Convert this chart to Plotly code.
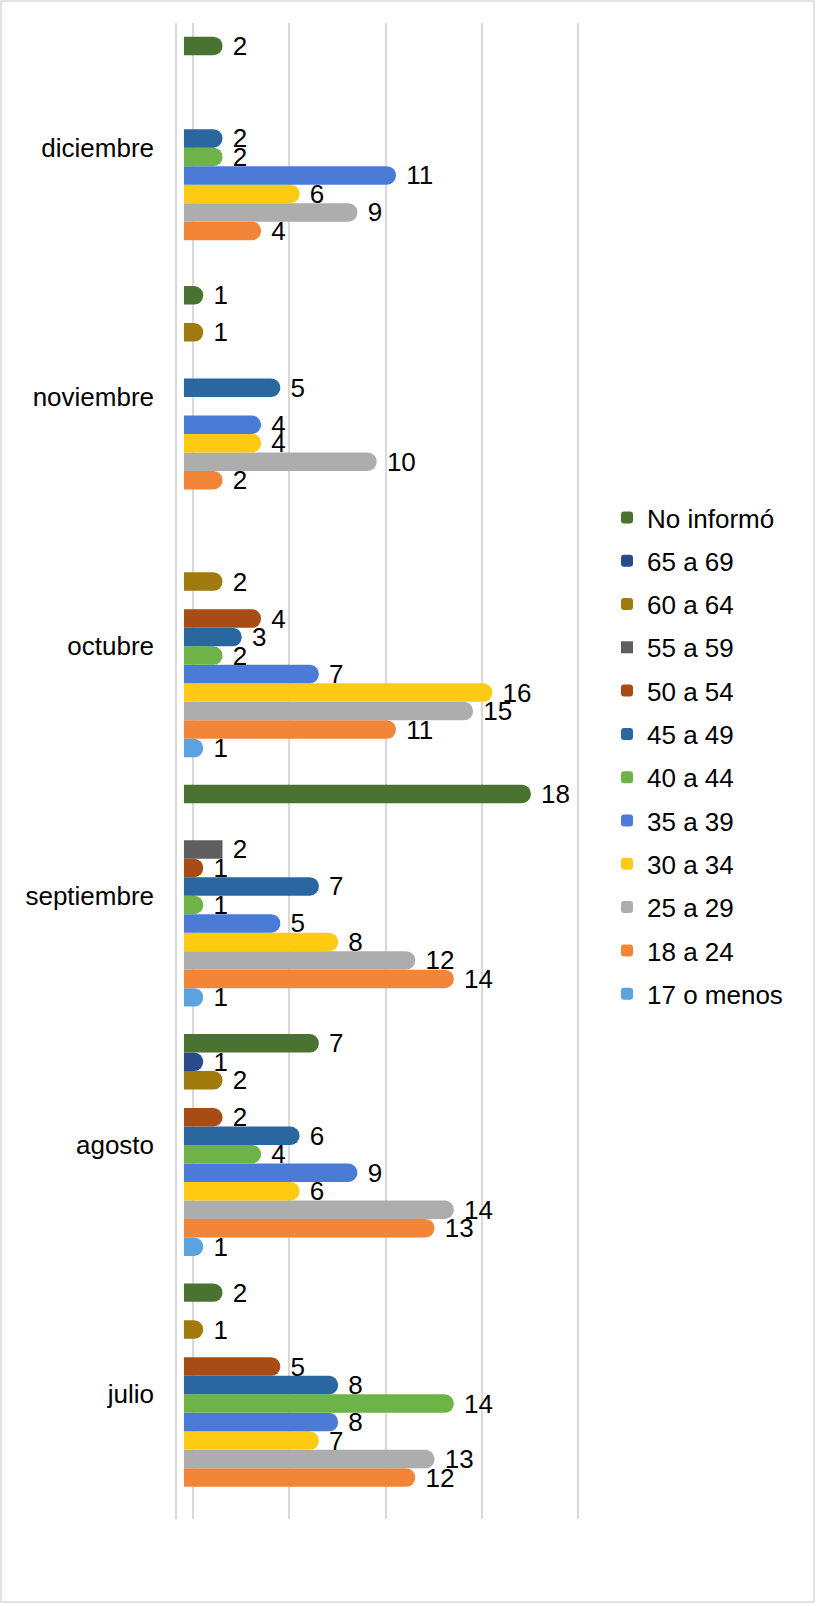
import plotly.graph_objects as go

# months, bottom to top as drawn
months = ["julio", "agosto", "septiembre", "octubre", "noviembre", "diciembre"]

# age groups, in the order the bars sit inside each month (bottom first)
age_groups = [
    "17 o menos", "18 a 24", "25 a 29", "30 a 34", "35 a 39", "40 a 44",
    "45 a 49", "50 a 54", "55 a 59", "60 a 64", "65 a 69", "No informó",
]

# counts per age group, one value per month (julio .. diciembre)
menos_17 = [0, 1, 1, 1, 0, 0]
de_18_24 = [12, 13, 14, 11, 2, 4]
de_25_29 = [13, 14, 12, 15, 10, 9]
de_30_34 = [7, 6, 8, 16, 4, 6]
de_35_39 = [8, 9, 5, 7, 4, 11]
de_40_44 = [14, 4, 1, 2, 0, 2]
de_45_49 = [8, 6, 7, 3, 5, 2]
de_50_54 = [5, 2, 1, 4, 0, 0]
de_55_59 = [0, 0, 2, 0, 0, 0]
de_60_64 = [1, 2, 0, 2, 1, 0]
de_65_69 = [0, 1, 0, 0, 0, 0]
no_informo = [2, 7, 18, 0, 1, 2]

series = [menos_17, de_18_24, de_25_29, de_30_34, de_35_39, de_40_44,
          de_45_49, de_50_54, de_55_59, de_60_64, de_65_69, no_informo]

colors = [
    "#5BA3E0", "#F28538", "#ADADAD", "#FFCB12", "#4A7BD6", "#6DB348",
    "#2A66A0", "#A84C16", "#5E5E5E", "#A07A0C", "#2A4B8A", "#4A7332",
]

FONT = "Liberation Sans, Arial, sans-serif"
SIZE = 26

fig = go.Figure()
for i, (name, vals) in enumerate(zip(age_groups, series)):
    fig.add_trace(
        go.Bar(
            y=months,
            x=vals,
            name=name,
            orientation="h",
            marker={
                "color": colors[i],
                "line": {"width": 0},
                # the 55 a 59 bar is drawn as a flat box in the original
                "cornerradius": 0 if name == "55 a 59" else "50%",
            },
            text=["\u00a0" + str(v) if v else "" for v in vals],
            textposition="outside",
            textfont={"family": FONT, "size": SIZE, "color": "black"},
            constraintext="none",
            cliponaxis=False,
            # one group per trace so tracegroupgap spaces the legend rows;
            # rank puts "No informó" at the top like the bars
            legendgroup=name,
            legendrank=len(age_groups) - i,
        )
    )

fig.update_layout(
    width=817,
    height=1606,
    margin={"l": 177, "r": 236, "t": 23, "b": 87},
    barmode="group",
    bargap=0.11,
    bargroupgap=0.0,
    plot_bgcolor="white",
    paper_bgcolor="white",
    font={"family": FONT, "size": SIZE, "color": "black"},
    legend={
        "traceorder": "grouped",
        "xref": "container",
        "yref": "container",
        "x": 607 / 817,
        "y": 1 - 494 / 1606,
        "xanchor": "left",
        "yanchor": "top",
        "tracegroupgap": 6.5,
        "font": {"family": FONT, "size": SIZE},
    },
    showlegend=True,
)

# back-wall gridlines sit a little right of the bar base (3D look)
fig.update_xaxes(
    range=[-0.36, 20.6],
    tickvals=[0.47, 5.47, 10.47, 15.47, 20.47],
    showticklabels=False,
    showgrid=True,
    gridcolor="#d9d9d9",
    gridwidth=1.5,
    zeroline=False,
    showline=False,
)
fig.update_yaxes(
    range=[-0.5, 5.5],
    showline=True,
    linecolor="#d9d9d9",
    linewidth=1.5,
    ticks="",
    ticklabelstandoff=16,
    tickfont={"family": FONT, "size": SIZE},
)

# light frame round the whole chart
plot_w = 817 - 177 - 236
plot_h = 1606 - 23 - 87
fig.add_shape(
    type="rect",
    xref="paper",
    yref="paper",
    x0=(1 - 177) / plot_w,
    x1=(814 - 177) / plot_w,
    y0=(1606 - 87 - 1602) / plot_h,
    y1=(1606 - 87 - 1) / plot_h,
    line={"color": "#d9d9d9", "width": 1.5},
    layer="below",
)

fig.write_html(
    "out.html",
    config={"displayModeBar": False},
    post_script="document.body.style.margin='0';",
)
